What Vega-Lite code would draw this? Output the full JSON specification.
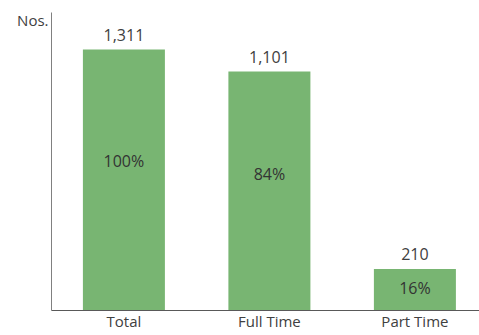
{
  "$schema": "https://vega.github.io/schema/vega-lite/v6.json",
  "width": 428,
  "height": 298,
  "autosize": {"type": "none"},
  "padding": {"left": 51, "top": 12, "right": 0, "bottom": 25},
  "background": "white",
  "config": {
    "view": {"stroke": null},
    "font": "Open Sans"
  },
  "data": {
    "values": [
      {"category": "Total", "height": 1311, "count": 1311, "pct": "100%"},
      {"category": "Full Time", "height": 1200, "count": 1101, "pct": "84%"},
      {"category": "Part Time", "height": 207, "count": 210, "pct": "16%"}
    ]
  },
  "encoding": {
    "x": {
      "field": "category",
      "type": "nominal",
      "sort": null,
      "scale": {"paddingInner": 0.4364, "paddingOuter": 0.189, "align": 0.58},
      "axis": {
        "title": null,
        "labelAngle": 0,
        "ticks": false,
        "labelFontSize": 15,
        "labelColor": "#404040",
        "labelPadding": 4,
        "domainColor": "#595959",
        "domainWidth": 1.2
      }
    }
  },
  "layer": [
    {
      "mark": {"type": "bar", "color": "#78b572"},
      "encoding": {
        "y": {
          "field": "height",
          "type": "quantitative",
          "scale": {"domain": [0, 1500], "nice": false},
          "axis": {
            "title": "Nos.",
            "titleAngle": 0,
            "titleAlign": "right",
            "titleBaseline": "alphabetic",
            "titleX": -3,
            "titleY": 13,
            "titleFontSize": 15,
            "titleFontWeight": "normal",
            "titleColor": "#404040",
            "labels": false,
            "ticks": false,
            "grid": false,
            "domainColor": "#808080"
          }
        }
      }
    },
    {
      "mark": {"type": "text", "baseline": "alphabetic", "dy": -9, "fontSize": 16, "color": "#404040"},
      "encoding": {
        "y": {"field": "height", "type": "quantitative"},
        "text": {"field": "count", "type": "quantitative", "format": ","}
      }
    },
    {
      "transform": [{"calculate": "datum.height * 0.58", "as": "labelY"}],
      "mark": {"type": "text", "baseline": "middle", "dy": 3, "fontSize": 16, "color": "#333333"},
      "encoding": {
        "y": {"field": "labelY", "type": "quantitative"},
        "text": {"field": "pct", "type": "nominal"}
      }
    }
  ]
}
